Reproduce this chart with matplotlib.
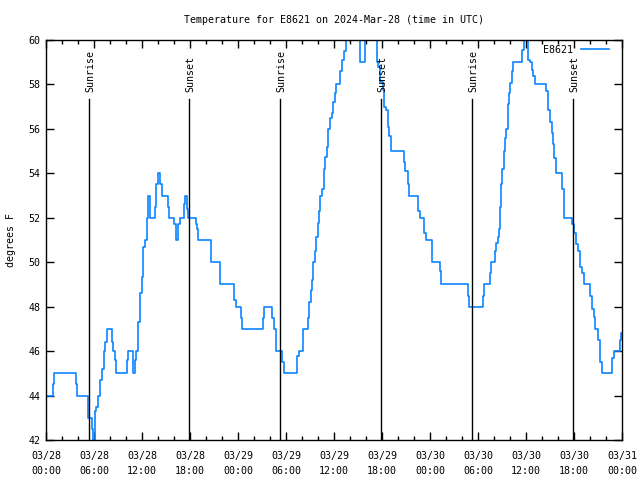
import numpy as np
import matplotlib.pyplot as plt

# temperature readings (hours since 2024-03-28 00:00 UTC, degrees F)
hours = [0.0, 0.9, 1.05, 3.7, 3.85, 5.2, 5.7, 5.85, 6.1, 6.3, 6.5, 6.75, 6.96,
         7.2, 7.4, 7.6, 8.2, 8.4, 8.6, 8.8, 10.1, 10.3, 10.9, 11.1, 11.3, 11.5,
         11.75, 11.96, 12.17, 12.4, 12.6, 12.8, 13.0, 13.6, 13.8, 13.95, 14.25,
         14.45, 15.3, 15.4, 16.05, 16.2, 16.5, 16.75, 17.3, 17.4, 17.6, 17.7,
         18.75, 18.9, 19.05, 20.6, 21.75, 23.55, 23.7, 24.35, 24.45, 27.15,
         27.3, 28.3, 28.5, 28.7, 28.8, 29.5, 29.7, 31.4, 31.6, 32.1, 32.7,
         32.9, 33.1, 33.3, 33.4, 33.6, 33.75, 33.96, 34.1, 34.3, 34.5, 34.7,
         34.9, 35.1, 35.3, 35.5, 35.7, 35.9, 36.1, 36.3, 36.8, 37.0, 37.25,
         37.5, 37.7, 39.25, 39.9, 41.1, 41.4, 41.5, 41.8, 42.1, 42.25, 42.5,
         42.7, 42.9, 43.1, 44.7, 44.9, 45.2, 45.4, 46.5, 46.75, 47.3, 47.5,
         48.25, 48.3, 49.25, 49.35, 52.7, 52.9, 54.6, 54.8, 55.5, 55.6, 56.1,
         56.3, 56.5, 56.6, 56.75, 56.9, 57.0, 57.2, 57.4, 57.5, 57.7, 57.8,
         57.9, 58.0, 58.2, 58.4, 59.5, 59.7, 60.2, 60.3, 60.5, 60.7, 60.9,
         61.1, 62.5, 62.7, 62.8, 63.0, 63.2, 63.4, 63.5, 63.7, 64.5, 64.75,
         65.8, 66.0, 66.2, 66.3, 66.5, 66.7, 66.8, 67.0, 67.2, 68.0, 68.2,
         68.3, 68.5, 68.6, 69.0, 69.2, 69.3, 69.5, 70.8, 70.96, 71.7, 71.85,
         72.0]
temps = [44, 44.5, 45, 44.5, 44, 43, 42.5, 41.8, 43.3, 43.5, 44, 44.7, 45.2,
         46, 46.4, 47, 46.4, 46, 45.6, 45, 45.6, 46, 45, 45.6, 46, 47.3,
         48.6, 49.35, 50.7, 51, 52, 53, 52, 52.5, 53.5, 54, 53.5,
         53, 52.5, 52, 51.7, 51, 51.7, 52, 52.6, 53, 52.4, 52,
         51.7, 51.5, 51, 50, 49, 48.3, 48, 47.5, 47, 47.5,
         48, 47.5, 47, 46.5, 46, 45.5, 45, 45.8, 46, 47, 47.5,
         48.2, 48.75, 49.2, 50, 50.5, 51.15, 51.75, 52.3, 53, 53.3, 54.2,
         54.75, 55.2, 56, 56.5, 56.7, 57.2, 57.6, 58, 58.6, 59.1, 59.5,
         60, 60.6, 59, 60.6, 60, 59, 58.8, 58.1, 57.75, 57, 56.85,
         56.1, 55.7, 55, 54.5, 54.1, 53.5, 53, 52.3, 52, 51.3, 51,
         50.5, 50, 49.6, 49, 48.5, 48, 48.5, 49, 49.5, 50, 50.5,
         50.85, 51.15, 51.5, 52.5, 53.5, 54.2, 55, 55.6, 56, 56.3, 57.1,
         57.6, 58.05, 58.6, 59, 59.55, 60.1, 59.6, 59.1, 59, 58.65, 58.4,
         58, 57.7, 57.1, 56.85, 56.3, 55.8, 55.3, 54.7, 54, 53.3, 52,
         51.7, 51.3, 51, 50.8, 50.5, 50.1, 49.8, 49.5, 49, 48.5, 48.15,
         47.9, 47.55, 47, 46.5, 45.9, 45.5, 45, 45.7, 46, 46.5, 46.8,
         46.8]

sunrise = [5.4, 29.3, 53.3]
sunset = [17.92, 41.92, 65.92]

xtick_labels = ['03/28\n00:00', '03/28\n06:00', '03/28\n12:00', '03/28\n18:00',
                '03/29\n00:00', '03/29\n06:00', '03/29\n12:00', '03/29\n18:00',
                '03/30\n00:00', '03/30\n06:00', '03/30\n12:00', '03/30\n18:00',
                '03/31\n00:00']

plt.rcParams['font.family'] = 'DejaVu Sans Mono'
plt.rcParams['font.size'] = 7.2

fig = plt.figure(figsize=(6.4, 4.8), dpi=100)
ax = fig.add_axes([46 / 640, 40 / 480, 576 / 640, 400 / 480])

ax.plot(hours, temps, drawstyle='steps-post', color='#0a84ff', lw=1.2, label='E8621')

# sunrise / sunset markers
for t in sunrise:
    ax.plot([t, t], [42, 57.35], color='black', lw=1)
    ax.text(t + 0.15, 57.65, 'Sunrise', rotation=90, ha='center', va='bottom')
for t in sunset:
    ax.plot([t, t], [42, 57.35], color='black', lw=1)
    ax.text(t + 0.15, 57.65, 'Sunset', rotation=90, ha='center', va='bottom')

ax.set_xlim(0, 72)
ax.set_ylim(42, 60)
ax.set_xticks(np.arange(0, 73, 6))
ax.set_xticklabels(xtick_labels, linespacing=1.6)
ax.set_xticks(np.arange(0, 73, 2), minor=True)
ax.set_yticks(np.arange(42, 61, 2))

ax.tick_params(which='both', direction='in', top=True, right=True, width=1)
ax.tick_params(which='major', length=6)
ax.tick_params(which='minor', length=3)
ax.tick_params(axis='x', pad=8)
ax.tick_params(axis='y', pad=4)
for s in ax.spines.values():
    s.set_linewidth(1)

ax.set_title('Temperature for E8621 on 2024-Mar-28 (time in UTC)', pad=12, fontsize=7.2)
ax.set_ylabel('degrees F')
ax.yaxis.set_label_coords(-0.052, 0.5)

ax.legend(loc='upper right', frameon=False, markerfirst=False,
          handlelength=2.8, handletextpad=0.8, borderpad=0.4,
          borderaxespad=0.1, bbox_to_anchor=(1 - 8 / 576, 1))

fig.savefig('out.png', dpi=100)
